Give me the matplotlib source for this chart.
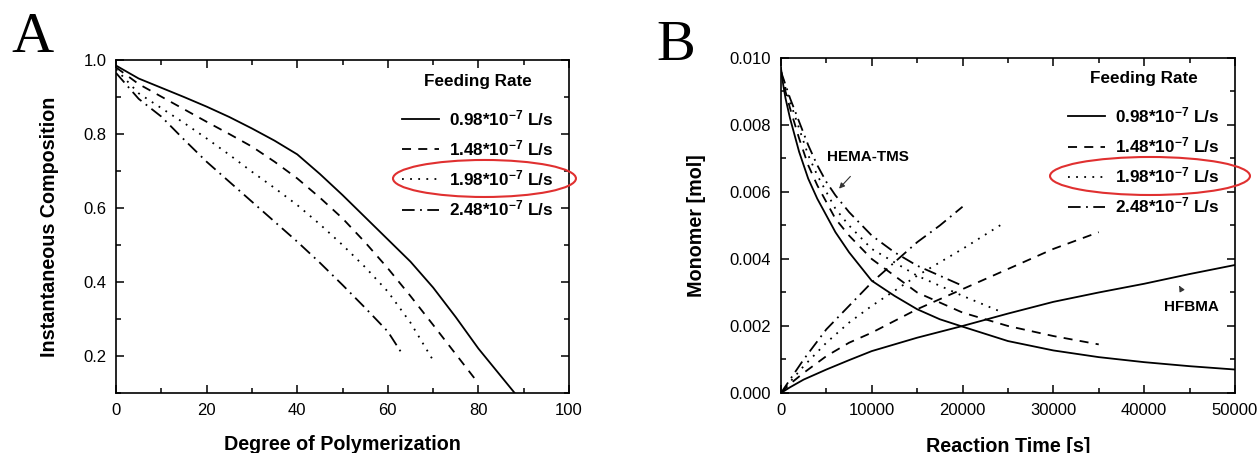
import numpy as np
import matplotlib
matplotlib.use("Agg")
from matplotlib import pyplot as plt
from matplotlib.patches import Ellipse
from matplotlib.ticker import MultipleLocator, FormatStrFormatter

plt.rcParams['font.family'] = ['Liberation Sans', 'DejaVu Sans']
plt.rcParams['mathtext.fontset'] = 'custom'
plt.rcParams['mathtext.bf'] = 'Liberation Sans:bold'
plt.rcParams['mathtext.rm'] = 'Liberation Sans:bold'
plt.rcParams['mathtext.default'] = 'bf'

# Data
# ------------------------------------------------------------------------------------------------------------
rate_labels = ['0.98*10$^{-7}$ L/s', '1.48*10$^{-7}$ L/s', '1.98*10$^{-7}$ L/s', '2.48*10$^{-7}$ L/s']
styles = ['-', (0, (5, 4)), (0, (1, 3.5)), (0, (7, 3, 1, 3))]

# panel A: instantaneous composition vs degree of polymerization
dp_1 = [0, 5, 10, 15, 20, 25, 30, 35, 40, 45, 50, 55, 60, 65, 70, 75, 80, 85, 88]
comp_1 = [0.985, 0.95, 0.925, 0.9, 0.874, 0.846, 0.815, 0.782, 0.745, 0.692, 0.635, 0.575, 0.515, 0.455, 0.385,
          0.305, 0.22, 0.145, 0.1]
dp_2 = [0, 5, 10, 15, 20, 25, 30, 35, 40, 45, 50, 55, 60, 65, 70, 75, 80]
comp_2 = [0.98, 0.935, 0.901, 0.867, 0.833, 0.8, 0.766, 0.725, 0.68, 0.628, 0.572, 0.507, 0.437, 0.362, 0.284,
          0.205, 0.126]
dp_3 = [0, 5, 10, 15, 20, 25, 30, 35, 40, 45, 50, 55, 60, 65, 70.4]
comp_3 = [0.975, 0.91, 0.87, 0.83, 0.788, 0.744, 0.698, 0.654, 0.608, 0.556, 0.5, 0.44, 0.374, 0.29, 0.18]
dp_4 = [0, 5, 10, 15, 20, 25, 30, 35, 40, 45, 50, 55, 60, 63.1]
comp_4 = [0.965, 0.895, 0.847, 0.785, 0.725, 0.671, 0.617, 0.563, 0.509, 0.452, 0.392, 0.33, 0.266, 0.207]

# panel B: monomer amount vs reaction time (HEMA-TMS decreasing, HFBMA increasing)
t_1 = [0, 250, 500, 1000, 1500, 2000, 3000, 4000, 5000, 6000, 7500, 10000, 12500, 15000, 17500, 20000,
       25000, 30000, 35000, 40000, 45000, 50000]
hema_1 = [0.0097, 0.0092, 0.0088, 0.0082, 0.0077, 0.0072, 0.0064, 0.0058, 0.0053, 0.0048, 0.0042, 0.00335,
          0.0029, 0.0025, 0.0022, 0.00198, 0.00155, 0.00127, 0.00107, 0.00092, 0.0008, 0.0007]
t_1b = [0, 1000, 2500, 5000, 7500, 10000, 15000, 20000, 25000, 30000, 35000, 40000, 45000, 50000]
hfbma_1 = [0, 0.00017, 0.0004, 0.0007, 0.00098, 0.00125, 0.00165, 0.002, 0.00237, 0.00272, 0.003, 0.00326,
           0.00355, 0.00382]

t_2 = [0, 500, 1000, 2000, 3000, 4000, 5000, 6000, 7500, 10000, 12500, 15000, 20000, 25000, 30000, 35000]
hema_2 = [0.0096, 0.009, 0.0085, 0.0076, 0.0068, 0.0062, 0.0057, 0.0052, 0.0047, 0.004, 0.0035, 0.003, 0.0024,
          0.002, 0.0017, 0.00145]
t_2b = [0, 1000, 2500, 5000, 7500, 10000, 15000, 20000, 25000, 30000, 35000]
hfbma_2 = [0, 0.00027, 0.0006, 0.0011, 0.0015, 0.0018, 0.0025, 0.0031, 0.0037, 0.0043, 0.0048]

t_3 = [0, 500, 1000, 2000, 3000, 4000, 5000, 6000, 7500, 10000, 12500, 15000, 17500, 20000, 24000]
hema_3 = [0.0096, 0.0091, 0.0087, 0.0079, 0.0071, 0.0065, 0.006, 0.0055, 0.005, 0.0043, 0.0039, 0.0035, 0.0032,
          0.0029, 0.00245]
t_3b = [0, 1000, 2500, 5000, 7500, 10000, 15000, 20000, 24700]
hfbma_3 = [0, 0.00033, 0.0008, 0.0015, 0.0021, 0.0026, 0.0035, 0.0043, 0.0051]

t_4 = [0, 500, 1000, 2000, 3000, 4000, 5000, 6000, 7500, 10000, 12500, 15000, 17500, 20000]
hema_4 = [0.0096, 0.0092, 0.0088, 0.0081, 0.0074, 0.0068, 0.0063, 0.0059, 0.0054, 0.0047, 0.0042, 0.0038, 0.0035,
          0.0032]
t_4b = [0, 1000, 2500, 5000, 7500, 10000, 12500, 15000, 17500, 20000]
hfbma_4 = [0, 0.0004, 0.001, 0.0019, 0.0026, 0.0033, 0.0039, 0.0045, 0.005, 0.00556]
# ------------------------------------------------------------------------------------------------------------

lw = 1.3
fig = plt.figure(figsize=(12.6, 4.53), dpi=100)
axA = fig.add_axes([0.0921, 0.1325, 0.3595, 0.735])
axB = fig.add_axes([0.6198, 0.1325, 0.3603, 0.7395])


def StyleAxes(ax):
    ax.tick_params(which='both', direction='in', top=True, right=True, labelsize=12, pad=7, width=1.1)
    ax.tick_params(which='major', length=6)
    ax.tick_params(which='minor', length=3.5)
    for s in ax.spines.values():
        s.set_linewidth(1.2)


def AddLegend(ax, anchor):
    leg = ax.legend(loc='upper right', bbox_to_anchor=anchor, frameon=False, title='Feeding Rate',
                    prop={'weight': 'bold', 'size': 12.3}, handlelength=2.2, handletextpad=0.6,
                    labelspacing=0.6)
    leg.get_title().set_fontweight('bold')
    leg.get_title().set_fontsize(12.3)
    leg._legend_box.sep = 14
    return leg


# Panel A
for xs, ys, st, lab in zip([dp_1, dp_2, dp_3, dp_4], [comp_1, comp_2, comp_3, comp_4], styles, rate_labels):
    axA.plot(xs, ys, color='black', lw=lw, linestyle=st, label=lab)
axA.set_xlim(0, 100)
axA.set_ylim(0.1, 1.0)
axA.xaxis.set_major_locator(MultipleLocator(20))
axA.xaxis.set_minor_locator(MultipleLocator(10))
axA.yaxis.set_major_locator(MultipleLocator(0.2))
axA.yaxis.set_minor_locator(MultipleLocator(0.1))
axA.yaxis.set_major_formatter(FormatStrFormatter('%.1f'))
axA.set_xlabel('Degree of Polymerization', fontsize=14.2, fontweight='bold')
axA.set_ylabel('Instantaneous Composition', fontsize=14.2, fontweight='bold')
axA.xaxis.set_label_coords(0.5, -0.125)
axA.yaxis.set_label_coords(-0.126, 0.5)
StyleAxes(axA)
AddLegend(axA, (1.0, 1.005))

# Panel B
for i, st in enumerate(styles):
    tx, hy = [t_1, t_2, t_3, t_4][i], [hema_1, hema_2, hema_3, hema_4][i]
    tb, fy = [t_1b, t_2b, t_3b, t_4b][i], [hfbma_1, hfbma_2, hfbma_3, hfbma_4][i]
    axB.plot(tx, hy, color='black', lw=lw, linestyle=st, label=rate_labels[i])
    axB.plot(tb, fy, color='black', lw=lw, linestyle=st)
axB.set_xlim(0, 50000)
axB.set_ylim(0, 0.010)
axB.xaxis.set_major_locator(MultipleLocator(10000))
axB.xaxis.set_minor_locator(MultipleLocator(5000))
axB.yaxis.set_major_locator(MultipleLocator(0.002))
axB.yaxis.set_minor_locator(MultipleLocator(0.001))
axB.yaxis.set_major_formatter(FormatStrFormatter('%.3f'))
axB.set_xlabel('Reaction Time [s]', fontsize=14.2, fontweight='bold')
axB.set_ylabel('Monomer [mol]', fontsize=14.2, fontweight='bold')
axB.xaxis.set_label_coords(0.5, -0.13)
axB.yaxis.set_label_coords(-0.165, 0.5)
StyleAxes(axB)
AddLegend(axB, (1.0, 1.007))

axB.annotate('HEMA-TMS', xy=(6400, 0.0061), xytext=(9580, 0.00703), ha='center', va='center',
             fontsize=11, fontweight='bold',
             arrowprops=dict(arrowstyle='-|>', color='#333333', lw=0.8, mutation_scale=8, shrinkA=9, shrinkB=0))
axB.annotate('HFBMA', xy=(43860, 0.0032), xytext=(45170, 0.00256), ha='center', va='center',
             fontsize=11, fontweight='bold',
             arrowprops=dict(arrowstyle='-|>', color='#333333', lw=0.8, mutation_scale=8, shrinkA=9, shrinkB=0))

# panel letters
fig.text(32 / 1260, 0.885, 'A', ha='center', va='baseline', fontsize=42, family='Liberation Serif')
fig.text(676 / 1260, 0.8675, 'B', ha='center', va='baseline', fontsize=42, family='Liberation Serif')

# red ellipses around the 1.98 entry
fig.patches.append(Ellipse((0.3845, 0.606), 0.1452, 0.0817, transform=fig.transFigure, fill=False,
                           edgecolor='#e03030', lw=1.5))
fig.patches.append(Ellipse((0.9127, 0.6115), 0.1587, 0.0839, transform=fig.transFigure, fill=False,
                           edgecolor='#e03030', lw=1.5))

fig.savefig('out.png', dpi=100)
